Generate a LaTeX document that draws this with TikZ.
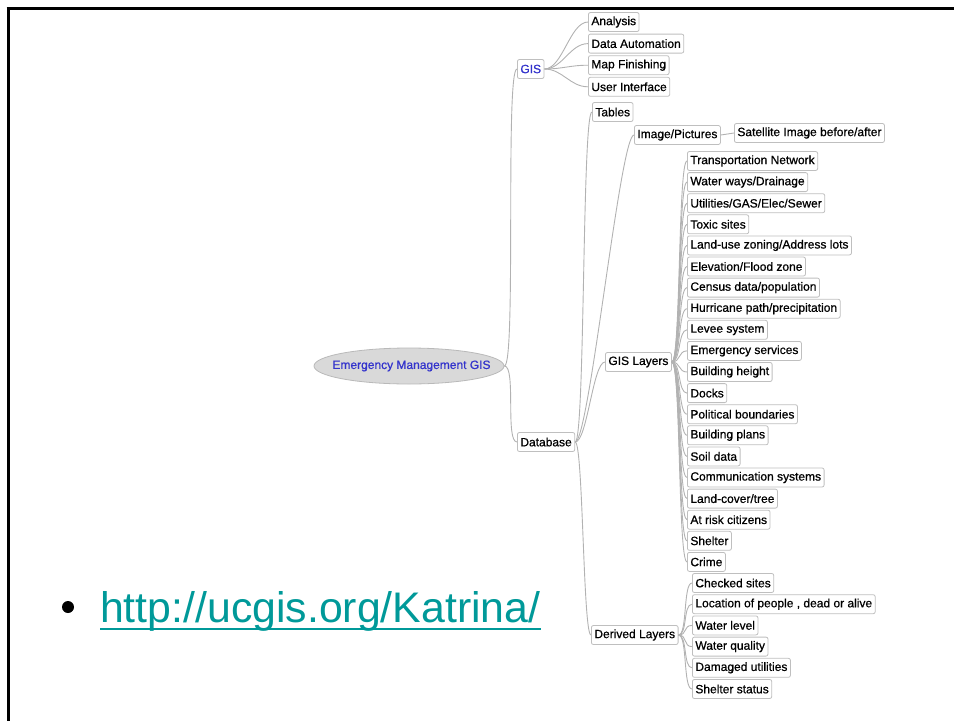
\documentclass[tikz,border=0pt]{standalone}
\usepackage{fontspec}
\setmainfont{Liberation Sans}
\newfontfamily\boxfont[FakeBold=0.7]{Liberation Sans}
\usetikzlibrary{shapes.geometric}
\definecolor{topicblue}{RGB}{51,51,204}
\definecolor{urlteal}{RGB}{0,153,153}
\begin{document}
\begin{tikzpicture}[x=1pt,y=-1pt,
        topic/.style={draw=gray!50, line width=0.8pt, rounded corners=2pt, fill=white,
            anchor=west, inner xsep=3pt, inner ysep=0pt, minimum height=19pt,
            font=\boxfont\fontsize{12}{14}\selectfont},
        link/.style={draw=gray!60, line width=0.9pt}]
        \useasboundingbox (0,0) rectangle (954,721);
        % slide frame
        \draw[line width=3pt] (6.5,8) -- (954,8);
        \draw[line width=3pt] (8,8) -- (8,721);

        % centre and first level
        \node[ellipse, draw=gray!55, fill=gray!30, line width=0.8pt, minimum width=190pt,
            minimum height=36pt, inner sep=0pt, text=topicblue,
            font=\boxfont\fontsize{12}{14}\selectfont] (emg) at (409,366)
            {\makebox[0pt]{\hspace{5pt}Emergency Management GIS}};
        \node[topic, text=topicblue] (gis) at (517,69) {GIS};
        \node[topic] (db) at (517,442) {Database};
        \draw[link] (emg.east) .. controls +(12,0) and +(-12,0) .. (gis.west);
        \draw[link] (emg.east) .. controls +(12,0) and +(-12,0) .. (db.west);

        % GIS
        \foreach \txt [count=\i] in {Analysis, Data Automation, Map Finishing, User Interface} {
            \node[topic] (g\i) at (588,{22+21.6*(\i-1)}) {\txt};
            \draw[link] (gis.east) .. controls +(18,0) and +(-18,0) .. (g\i.west);
        }

        % Database
        \node[topic] (tab) at (592,112) {Tables};
        \node[topic] (img) at (634,135) {Image/Pictures};
        \node[topic] (sat) at (734,133) {Satellite Image before/after};
        \node[topic] (layers) at (605,362) {GIS Layers};
        \node[topic] (derived) at (591,635) {Derived Layers};
        \draw[link] (db.east) .. controls +(10,0) and +(-10,0) .. (tab.west);
        \draw[link] (db.east) .. controls +(14,0) and +(-14,0) .. (img.west);
        \draw[link] (db.east) .. controls +(12,0) and +(-12,0) .. (layers.west);
        \draw[link] (db.east) .. controls +(8,0) and +(-8,0) .. (derived.west);
        \draw[link] (img.east) -- (sat.west);

        % GIS layers
        \foreach \txt [count=\i] in {Transportation Network, Water ways/Drainage,
            Utilities/GAS/Elec/Sewer, Toxic sites, Land-use zoning/Address lots,
            Elevation/Flood zone, Census data/population, Hurricane path/precipitation,
            Levee system, Emergency services, Building height, Docks, Political boundaries,
            Building plans, Soil data, Communication systems, Land-cover/tree,
            At risk citizens, Shelter, Crime} {
            \node[topic] (lay\i) at (687,{161+21.1*(\i-1)}) {\txt};
            \draw[link] (layers.east) .. controls +(9,0) and +(-9,0) .. (lay\i.west);
        }

        % derived layers
        \foreach \txt [count=\i] in {Checked sites, {Location of people , dead or alive},
            Water level, Water quality, Damaged utilities, Shelter status} {
            \node[topic] (der\i) at (692,{583+21.2*(\i-1)}) {\txt};
            \draw[link] (derived.east) .. controls +(9,0) and +(-9,0) .. (der\i.west);
        }

        % link on the slide
        \node[circle, fill=black, inner sep=0pt, minimum size=12pt] (dot) at (68,607) {};
        \node[anchor=base west, inner sep=0pt, text=urlteal,
            font=\fontsize{42.8}{50}\selectfont] (url) at (100,622) {http://ucgis.org/Katrina/};
        \draw[urlteal, line width=2pt] ([yshift=-7pt]url.base west) -- ([yshift=-7pt]url.base east);
\end{tikzpicture}
\end{document}
